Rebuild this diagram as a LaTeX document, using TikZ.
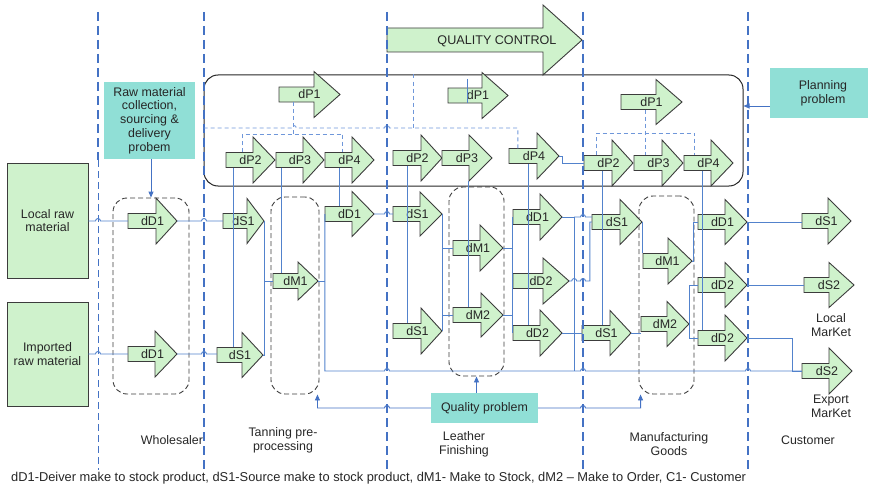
\documentclass[tikz,border=0pt]{standalone}
\usepackage{fontspec}
\setmainfont{Liberation Sans}
\usetikzlibrary{arrows.meta,calc}

\definecolor{leaf}{HTML}{CFF2CC}
\definecolor{edgegray}{HTML}{3C3C3C}
\definecolor{aqua}{HTML}{90DFD6}
\definecolor{ruleblue}{HTML}{4472C4}
\definecolor{wireblue}{HTML}{5282CC}
\definecolor{planblue}{HTML}{6F97DA}
\definecolor{ink}{HTML}{262626}

\tikzset{
  blkshape/.style={draw=edgegray, fill=leaf, line width=0.9pt, line join=miter},
  blktext/.style={inner sep=0pt, minimum height=15pt, text height=8.9pt, text depth=0pt,
    font=\fontsize{12.5}{13.5}\selectfont, text=ink},
  srcbox/.style={draw=edgegray, fill=leaf, line width=0.9pt, align=center, inner sep=0pt,
    font=\fontsize{12.4}{13.8}\selectfont, text=ink},
  issue/.style={fill=aqua, align=center, inner sep=0pt,
    font=\fontsize{12.4}{13.8}\selectfont, text=ink},
  zone/.style={draw=edgegray, dash pattern=on 5pt off 3pt, line width=0.9pt,
    rounded corners=14pt, inner sep=0pt},
  plangroup/.style={draw=black!85, line width=1pt, rounded corners=14pt, inner sep=0pt},
  divider/.style={draw=ruleblue, line width=1.8pt, dash pattern=on 9pt off 5pt},
  wire/.style={draw=wireblue, line width=0.9pt},
  pdash/.style={draw=planblue, line width=0.9pt, dash pattern=on 4pt off 3pt},
  probe/.style={draw=ruleblue, line width=0.9pt, -{Triangle[length=6pt,width=5pt]}},
  lbl/.style={align=center, inner sep=0pt, font=\fontsize{12.4}{13.8}\selectfont, text=ink},
}

% block arrow: name, tail x, tip x, axis y, head length, head half-height, text
\newcommand\blk[7]{%
  \draw[blkshape] (#2,#4-7.5) -- (#3-#5,#4-7.5) -- (#3-#5,#4-#6) -- (#3,#4)
    -- (#3-#5,#4+#6) -- (#3-#5,#4+7.5) -- (#2,#4+7.5) -- cycle;
  \node[blktext, minimum width=#3-#2] (#1) at ({(#2+#3)/2},#4) {#7};}

% small line jumps over a vertical line (rightward / leftward)
\newcommand\hop[2]{-- ([xshift=-2.5pt]#1 |- #2) arc[start angle=180,end angle=0,radius=2.5pt]}
\newcommand\hopl[2]{-- ([xshift=2.5pt]#1 |- #2) arc[start angle=0,end angle=180,radius=2.5pt]}

\begin{document}
\begin{tikzpicture}[x=1pt,y=-1pt]
\useasboundingbox (0,0) rectangle (870,487);

% stage dividers
\coordinate (dv1) at (98,12);
\coordinate (dv2) at (204,12);
\coordinate (dv3) at (387,12);
\coordinate (dv4) at (583,12);
\coordinate (dv5) at (748,12);
\coordinate (dvmid) at (0,160);
\coordinate (foot) at (0,470);

% planning group and stage groups
\node[plangroup, minimum width=539pt, minimum height=111pt] (plan) at (473.5,130.5) {};
\node[zone, minimum width=76pt, minimum height=196pt] (wBox) at (151,296) {};
\node[zone, minimum width=48pt, minimum height=197pt] (tBox) at (295,295.5) {};
\node[zone, minimum width=55pt, minimum height=189pt] (lBox) at (476.5,281.5) {};
\node[zone, minimum width=55pt, minimum height=198pt] (mBox) at (666.5,295) {};

% problem boxes
\node[issue, minimum width=91pt, minimum height=77pt] (rawBox) at (149.5,120.5)
  {Raw material\\collection,\\sourcing \&\\delivery\\probem};
\node[issue, minimum width=98pt, minimum height=50pt] (planBox) at (819,93)
  {\hspace*{8pt}Planning\\\hspace*{8pt}problem};
\node[issue, minimum width=107pt, minimum height=30pt] (qualBox) at (484.5,408)
  {Quality problem};

% sources
\node[srcbox, minimum width=81pt, minimum height=115pt] (localBox) at (47.5,220.5)
  {Local raw\\material};
\node[srcbox, minimum width=81pt, minimum height=104pt] (importBox) at (47.5,354)
  {Imported\\raw material};

% quality control banner
\draw[blkshape] (387,28) -- (543,28) -- (543,5) -- (582,40) -- (543,75) -- (543,52)
  -- (387,52) -- cycle;
\node[blktext, font=\fontsize{12.6}{14}\selectfont] (qc) at (497,40) {QUALITY CONTROL};

% wholesaler
\blk{wDa}{128}{177}{221}{21}{23}{dD1}
\blk{wDb}{128}{177}{354}{22}{23}{dD1}
% tanning pre-processing
\blk{tP1}{279}{340}{94.5}{26}{23}{dP1}
\blk{tP2}{226}{275}{160}{22}{23}{dP2}
\blk{tP3}{276}{324}{160}{21}{23}{dP3}
\blk{tP4}{325}{374}{160}{22}{23}{dP4}
\blk{tSa}{223}{264}{221}{17}{22.5}{dS1}
\blk{tSb}{217}{263}{355}{21}{22.5}{dS1}
\blk{tM1}{273}{318}{281}{20}{19}{dM1}
\blk{tD1}{325}{374}{214}{22}{22.5}{dD1}
% leather finishing
\blk{lP1}{448}{508}{95.5}{26}{23}{dP1}
\blk{lP2}{393}{442}{158}{21}{23}{dP2}
\blk{lP3}{442}{492}{158}{23}{23}{dP3}
\blk{lP4}{509}{559}{156}{22}{23}{dP4}
\blk{lSa}{393}{442}{214}{22}{22}{dS1}
\blk{lSb}{393}{442}{331}{21}{23}{dS1}
\blk{lM1}{453}{503}{248}{23}{23}{dM1}
\blk{lM2}{453}{503}{315}{22}{22}{dM2}
\blk{lD1}{513}{562}{217}{22}{23}{dD1}
\blk{lDa}{513}{569}{281}{26}{23}{dD2}
\blk{lDb}{513}{562}{333}{22}{23}{dD2}
% manufacturing goods
\blk{mP1}{621}{682}{102}{26}{22.5}{dP1}
\blk{mP2}{584}{633}{163}{21}{23}{dP2}
\blk{mP3}{634}{683}{163}{21}{23}{dP3}
\blk{mP4}{684}{733}{163}{22}{23}{dP4}
\blk{mSa}{592}{642}{222}{22}{22.5}{dS1}
\blk{mSb}{582}{631}{333}{21}{22.5}{dS1}
\blk{mM1}{643}{692}{261}{24}{23}{dM1}
\blk{mM2}{641}{689}{324}{22}{22.5}{dM2}
\blk{mD1}{698}{747}{222}{22}{22.5}{dD1}
\blk{mDa}{698}{747}{285}{22}{22.5}{dD2}
\blk{mDb}{698}{747}{338}{22}{23}{dD2}
% customer
\blk{cS1}{802}{851}{221}{23}{23}{dS1}
\blk{cSa}{804}{854}{285}{25}{22.5}{dS2}
\blk{cSb}{802}{852}{371}{23}{23}{dS2}

% dividers on top of the stage contents
\draw[divider] (dv1) -- (dv1 |- dvmid);
\draw[divider, line width=0.8pt, dash pattern=on 7pt off 4pt] (dv1 |- dvmid) -- (dv1 |- foot);
\foreach \d in {dv2,dv3,dv4,dv5} \draw[divider] (\d) -- (\d |- foot);

% material flow: sources and wholesaler
\draw[wire] (localBox.east |- wDa.west) \hop{dv1}{wDa.west} -- (wDa.west);
\draw[wire] (wDa.east) \hop{dv2}{wDa.east} -- (tSa.west);
\draw[wire] (importBox.east |- wDb.west) \hop{dv1}{wDb.west} -- (wDb.west);
\draw[wire] (wDb.east) \hop{dv2}{wDb.east} -- (wDb.east -| tSb.west);

% tanning
\draw[wire] ([xshift=8pt]tP2.south west) -- ([xshift=8pt]tP2.south west |- tSb.north);
\draw[wire] ([xshift=6pt]tP3.south west) -- ([xshift=6pt]tP3.south west |- tM1.north);
\draw[wire] ([xshift=15pt]tP4.south west) -- ([xshift=15pt]tP4.south west |- tD1.north);
\draw[wire] (tSa.east) -- (tSa.east |- tSb.east) -- (tSb.east);
\draw[wire] (tSa.east |- tM1.west) -- (tM1.west);
\draw[wire] (tM1.east) -- (tM1.east -| tD1.west);
\draw[wire] (tD1.west) -- (tD1.west |- cSb.west) \hop{dv3}{cSb.west} \hop{dv4}{cSb.west}
  \hop{dv5}{cSb.west} -- (cSb.west);
\draw[wire] (tD1.east) \hop{dv3}{tD1.east} -- (lSa.west);

% leather finishing
\draw[wire] ([xshift=15pt]lP2.south west) -- ([xshift=15pt]lP2.south west |- lSb.north);
\draw[wire] ([xshift=27pt,yshift=-15.5pt]lP3.south west) -- ([xshift=27pt]lP3.south west |- lM2.north);
\draw[wire] ([xshift=20pt]lP4.south west) -- ([xshift=20pt]lP4.south west |- lDb.north);
\draw[wire] ([xshift=20pt,yshift=9pt]lP1.north west) -- ([xshift=20pt]lP1.south west);
\draw[wire] (lSa.east) -- (lSb.east);
\draw[wire] (lSa.east |- lM1.west) -- (lM1.west);
\draw[wire] (lSa.east |- lM2.west) -- (lM2.west);
\draw[wire] (lD1.west) -- (lDb.west);
\draw[wire] (lM1.east) -- (lM1.east -| lD1.west);
\draw[wire] (lM2.east) -- (lM2.east -| lD1.west);
\draw[wire] (lD1.east) -- ([xshift=12pt]lD1.east) -- ([xshift=12pt]lD1.east |- cSb.west);
\draw[wire] ([xshift=12pt]lD1.east) \hop{dv4}{lD1.east} -- (lD1.east -| mSa.west);
\draw[wire] (lDb.east) -- (mSb.west);
\draw[wire] (lDa.east) -- ([xshift=9.5pt]lD1.east |- lDa.east)
  arc[start angle=180,end angle=0,radius=2.5pt] \hop{dv4}{lDa.east}
  -| ([xshift=-2pt]mSa.west) -- (mSa.west);
\draw[wire] (lP4.east) -- ([xshift=3pt]lP4.east) |- (mP2.west);

% manufacturing goods
\draw[wire] ([xshift=19pt]mP2.south west) -- ([xshift=19pt]mP2.south west |- mSb.north);
\draw[wire] ([xshift=19pt]mP4.south west) -- ([xshift=19pt]mP4.south west |- mDb.north);
\draw[wire] (mSa.east) -- (mSa.east |- mM1.north);
\draw[wire] (mSb.east) -- (mSb.east -| mM2.west);
\draw[wire] (mM1.east) -- ([xshift=1pt]mM1.east) |- (mD1.west);
\draw[wire] (mDa.west) -- ([xshift=-8pt]mDa.west) |- (mDb.west);
\draw[wire] (mM2.east) -- ([xshift=-8pt]mDa.west |- mM2.east);

% to the customer
\draw[wire] (mD1.east) -- (mD1.east -| cS1.west);
\draw[wire] (mDa.east) -- (cSa.west);
\draw[wire] (mDb.east) -| ([xshift=-9pt]cSb.west) -- (cSb.west);

% planning links
\coordinate (qcLink) at (413,128);
\coordinate (tRail) at (294,134);
\coordinate (mRail) at (646,133);
\draw[pdash] (plan.north -| qcLink) -- (qcLink);
\draw[pdash] (plan.west |- qcLink) -- ([xshift=12.5pt]tP1.south west |- qcLink)
  arc[start angle=180,end angle=0,radius=2.5pt] \hop{dv3}{qcLink}
  -- ([xshift=9pt]lP4.north west |- qcLink) -- ([xshift=9pt]lP4.north west);
\draw[pdash] ([xshift=15pt]tP1.south west) -- ([xshift=15pt]tP1.south west |- tRail);
\draw[pdash] ([xshift=17pt]tP2.north west) -- ([xshift=17pt]tP2.north west |- tRail)
  -- ([xshift=18pt]tP4.north west |- tRail) -- ([xshift=18pt]tP4.north west);
\draw[pdash] ([xshift=25pt]mP1.south west) -- ([xshift=25pt]mP1.south west |- mP3.north);
\draw[pdash] ([xshift=13pt]mP2.north west) -- ([xshift=13pt]mP2.north west |- mRail)
  -- ([xshift=11pt]mP4.north west |- mRail) -- ([xshift=11pt]mP4.north west);

% problem pointers
\draw[probe] (wBox.north |- rawBox.south) -- (wBox.north);
\draw[probe] ([yshift=-13pt]planBox.west) -- ([yshift=-13pt]planBox.west -| plan.east);
\draw[probe] (lBox.south |- qualBox.north) -- (lBox.south);
\draw[probe] (qualBox.west) \hopl{dv3}{qualBox.west} -| ([xshift=-2pt]tBox.south east);
\draw[probe] (qualBox.east) \hop{dv4}{qualBox.east} -| ([xshift=2pt]mBox.south west);

% stage and market captions
\node[lbl] (wsLbl) at (172,440) {Wholesaler};
\node[lbl] (tnLbl) at (283,440) {Tanning pre-\\processing};
\node[lbl] (lfLbl) at (464,444) {Leather\\Finishing};
\node[lbl] (mgLbl) at (669,444) {Manufacturing\\Goods};
\node[lbl] (cuLbl) at (808,440) {Customer};
\node[lbl] (lmLbl) at (831,325) {Local\\MarKet};
\node[lbl] (emLbl) at (831,406) {Export\\MarKet};
\node[lbl, anchor=west, font=\fontsize{12.85}{14}\selectfont] (keyLbl) at (11,478)
  {dD1-Deiver make to stock product, dS1-Source make to stock product, dM1- Make to Stock, dM2 – Make to Order, C1- Customer};
\end{tikzpicture}
\end{document}
